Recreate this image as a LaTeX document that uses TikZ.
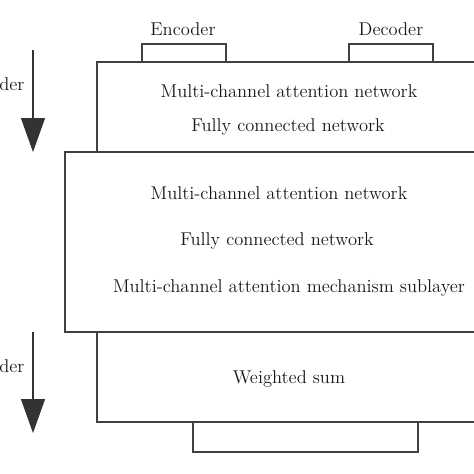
\documentclass[tikz,border=0pt]{standalone}
\usetikzlibrary{arrows.meta}
\begin{document}
\begin{tikzpicture}[x=0.6pt,y=-0.6pt,line width=0.7pt,
    capa/.style={draw=black!75},
    texto/.style={text=black!90,font=\fontsize{11.1}{13}\selectfont},
    flecha/.style={draw=black!80,-{Triangle[width=14.4pt,length=20.4pt]}}]
    % Borde derecho (fuera de la imagen)
    \def\bordeder{490}
    \useasboundingbox (0,0) rectangle (474,474);

    % entradas
    \draw[capa] (142,62) rectangle (226,44);
    \node[texto] (enc) at (183,29) {Encoder};
    \draw[capa] (349,62) rectangle (433,44);
    \node[texto] (dec) at (391,29) {Decoder};

    % capa superior
    \draw[capa] (97,62) rectangle (\bordeder,152);
    \node[texto] (mcan1) at (289,91) {Multi-channel attention network};
    \node[texto] (fcn1) at (288,127) {Fully connected network};

    % capa central
    \draw[capa] (65,152) rectangle (\bordeder,332);
    \node[texto] (mcan2) at (279,193) {Multi-channel attention network};
    \node[texto] (fcn2) at (277,241) {Fully connected network};
    \node[texto] (sub) at (289,288) {Multi-channel attention mechanism sublayer};

    % capa inferior
    \draw[capa] (97,332) rectangle (\bordeder,422);
    \node[texto] (suma) at (289,379) {Weighted sum};

    % salida
    \draw[capa] (193,422) rectangle (418,452);

    % flechas laterales
    \coordinate (encini) at (33,50);
    \coordinate (encfin) at (33,152);
    \draw[flecha] (encini) -- (encfin);
    \node[texto,anchor=east,inner sep=0pt] (lenc) at (25,84) {der};
    \coordinate (decini) at (33,332);
    \coordinate (decfin) at (33,433);
    \draw[flecha] (decini) -- (decfin);
    \node[texto,anchor=east,inner sep=0pt] (ldec) at (25,366) {der};
\end{tikzpicture}
\end{document}
